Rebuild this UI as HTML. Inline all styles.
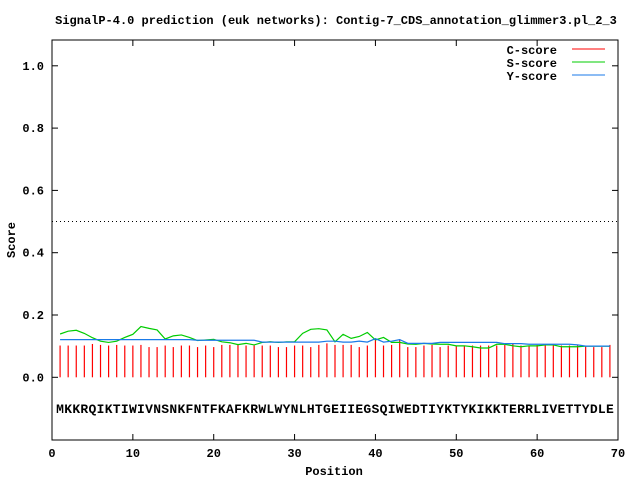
<!DOCTYPE html>
<html><head><meta charset="utf-8"><style>
body{margin:0;background:#fff}
svg{display:block}
text{font-family:"Liberation Mono","DejaVu Sans Mono",monospace;font-weight:bold;fill:#000}
</style></head><body>
<svg id="chart" width="640" height="480" xmlns="http://www.w3.org/2000/svg">
<rect width="640" height="480" fill="#fff"/>
<text x="336" y="24" font-size="12" text-anchor="middle">SignalP-4.0 prediction (euk networks): Contig-7_CDS_annotation_glimmer3.pl_2_3</text>
<g id="grid"></g><g id="marks"></g><g id="axes"></g>
<text x="334" y="475" font-size="12" text-anchor="middle">Position</text>
<text transform="translate(15,240) rotate(-90)" font-size="12" text-anchor="middle">Score</text>
<g>
<text x="557" y="54" font-size="12" text-anchor="end">C-score</text>
<line x1="572" y1="49" x2="605" y2="49" stroke="#f00"/>
<text x="557" y="67" font-size="12" text-anchor="end">S-score</text>
<line x1="572" y1="62" x2="605" y2="62" stroke="#0c0"/>
<text x="557" y="80" font-size="12" text-anchor="end">Y-score</text>
<line x1="572" y1="75" x2="605" y2="75" stroke="#1a7ae8"/>
</g>
</svg>
<script>
const sequence = "MKKRQIKTIWIVNSNKFNTFKAFKRWLWYNLHTGEIIEGSQIWEDTIYKTYKIKKTERRLIVETTYDLEQ".split("").slice(0,69);
const cScore = [0.102,0.102,0.102,0.102,0.107,0.104,0.102,0.104,0.102,0.102,0.104,0.097,0.097,0.102,0.097,0.102,0.102,0.097,0.102,0.097,0.104,0.104,0.107,0.102,0.102,0.102,0.102,0.097,0.097,0.102,0.102,0.097,0.104,0.109,0.104,
0.104,0.104,0.097,0.102,0.125,0.102,0.104,0.122,0.097,0.097,0.102,0.104,0.097,0.102,0.102,0.102,0.102,0.102,0.102,0.102,0.104,0.107,0.102,0.102,0.104,0.102,0.102,0.102,0.102,0.102,0.102,0.097,0.097,0.104];
const sScore = [0.139,0.148,0.151,0.141,0.127,0.116,0.112,0.116,0.128,0.138,0.163,0.157,0.152,0.123,0.133,0.136,0.128,0.118,0.120,0.122,0.114,0.111,0.105,0.109,0.104,0.112,0.114,0.112,0.114,0.114,0.141,0.154,0.156,0.152,0.114,
0.138,0.125,0.131,0.144,0.120,0.128,0.112,0.112,0.107,0.106,0.109,0.107,0.106,0.106,0.101,0.101,0.098,0.094,0.094,0.106,0.106,0.101,0.098,0.101,0.101,0.104,0.104,0.098,0.098,0.098,0.100,0.100,0.100,0.100];
const yScore = [0.121,0.121,0.121,0.121,0.121,0.121,0.121,0.121,0.121,0.121,0.121,0.121,0.121,0.121,0.121,0.121,0.121,0.119,0.119,0.119,0.119,0.119,0.119,0.119,0.119,0.113,0.113,0.113,0.113,0.113,0.113,0.113,0.113,0.116,0.116,
0.113,0.113,0.116,0.113,0.124,0.113,0.116,0.121,0.109,0.109,0.109,0.109,0.112,0.112,0.112,0.112,0.112,0.112,0.112,0.112,0.108,0.108,0.108,0.106,0.106,0.106,0.106,0.106,0.106,0.104,0.100,0.100,0.100,0.100];
const xTicks = [0,10,20,30,40,50,60,70];
const yTicks = [0.0,0.2,0.4,0.6,0.8,1.0];
const threshold = 0.5;

const L=52,R=618,T=40,B=440;
const X=p=>L+p*(R-L)/70;
const Y=v=>377.3-v*311.5;
const NS="http://www.w3.org/2000/svg";
function mk(tag,attrs,parent){const e=document.createElementNS(NS,tag);for(const k in attrs)e.setAttribute(k,attrs[k]);parent.appendChild(e);return e;}
const marks=document.getElementById('marks'),axes=document.getElementById('axes'),grid=document.getElementById('grid');

let th=mk('line',{x1:L,x2:R,y1:Y(threshold),y2:Y(threshold),stroke:'#000','stroke-dasharray':'1,3'},grid);



cScore.forEach((v,i)=>{
  const b=mk('line',{x1:X(i+1),x2:X(i+1),y1:Y(0),y2:Y(v),stroke:'#f00','stroke-width':1.2},marks);
  
  
});
function poly(arr,color,name){
  const p=mk('polyline',{points:arr.map((v,i)=>X(i+1)+','+Y(v)).join(' '),fill:'none',stroke:color,'stroke-width':1.2},marks);
  
  
}
poly(sScore,'#0c0','s-score-line');
poly(yScore,'#1a7ae8','y-score-line');

sequence.forEach((c,i)=>{
  const t=mk('text',{x:X(i+1),y:413,'font-size':13,'text-anchor':'middle'},marks);
  t.textContent=c;
  
  
});

const fr=mk('rect',{x:L,y:T,width:R-L,height:B-T,fill:'none',stroke:'#000'},axes);


xTicks.forEach(v=>{
  mk('line',{x1:X(v),x2:X(v),y1:B,y2:B-6,stroke:'#000'},axes);
  mk('line',{x1:X(v),x2:X(v),y1:T,y2:T+6,stroke:'#000'},axes);
  const t=mk('text',{x:X(v),y:457,'font-size':12,'text-anchor':'middle'},axes);
  t.textContent=v;
  
  
});
yTicks.forEach(v=>{
  mk('line',{x1:L,x2:L+6,y1:Y(v),y2:Y(v),stroke:'#000'},axes);
  mk('line',{x1:R,x2:R-6,y1:Y(v),y2:Y(v),stroke:'#000'},axes);
  const t=mk('text',{x:44,y:Y(v)+4,'font-size':12,'text-anchor':'end'},axes);
  t.textContent=v.toFixed(1);
  
  
});
</script>
</body></html>
